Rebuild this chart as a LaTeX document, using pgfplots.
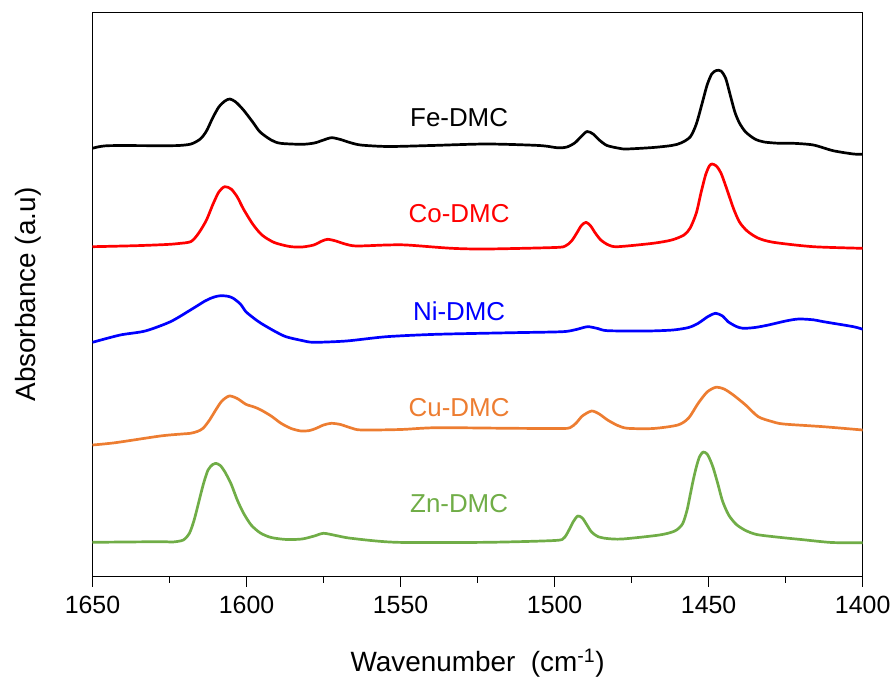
\documentclass[border=0pt]{standalone}
\usepackage{fontspec}
\setmainfont{Liberation Sans}
\usepackage{pgfplots}
\pgfplotsset{compat=1.18}
\definecolor{cuorange}{RGB}{237,125,49}
\definecolor{zngreen}{RGB}{112,173,71}
\begin{document}
\begin{tikzpicture}
\useasboundingbox (-92.5bp,-109.3bp) rectangle (800.5bp,576.7bp);
\begin{axis}[
  at={(0,0)}, anchor=south west,
  scale only axis, width=770.2bp, height=564.2bp,
  x dir=reverse, y dir=reverse,
  xmin=1400, xmax=1650, ymin=12.5, ymax=576.7,
  xtick={1400,1450,...,1650},
  minor xtick={1425,1475,...,1625},
  ytick=\empty,
  xtick pos=bottom, tick align=outside,
  major tick length=10bp, minor tick length=6bp,
  axis line style={line width=1bp},
  every tick/.style={black, line width=1bp},
  /pgf/number format/assume math mode=true,
  /pgf/number format/1000 sep={},
  xticklabel style={font=\fontsize{25}{30}\selectfont, yshift=-6bp},
  xlabel={Wavenumber\ \ (cm\textsuperscript{-1})},
  ylabel={Absorbance (a.u)},
  xlabel style={font=\fontsize{28}{33}\selectfont, at={(axis description cs:0.5,-0.1535)}, anchor=center},
  ylabel style={font=\fontsize{28}{33}\selectfont, at={(axis description cs:-0.0837,0.5)}, anchor=center},
  every axis plot/.append style={line width=2.7bp, smooth, tension=0.45, no markers, line join=round},
]
% Fe-DMC
\addplot[black] coordinates {
(1650,148.3)(1645,145.7)(1628,145.7)(1622,145.5)(1618,144)(1615,139)(1613,131)(1611,118)(1609,107)(1607,101)(1605.4,99)(1603.5,102)(1601,110)(1598,122)(1595.6,132)(1592,140)(1589,143.3)(1582,144.3)(1578,143)(1575,140)(1572.4,137.7)(1569.5,139.5)(1567,142)(1563,145)(1554,146.5)(1540,145.5)(1522,144)(1505,145.5)(1499,147.8)(1496,147)(1493.5,143)(1491.5,137)(1489.5,131.5)(1487.5,134)(1485.5,140)(1483,145.5)(1479,148.3)(1476.6,149)(1468,147.5)(1462,145.5)(1459,143)(1456,137)(1454,124)(1452,102)(1450.5,85)(1449,74)(1447.5,70.5)(1446,71)(1444.5,78)(1443,95)(1441.5,112)(1440,123)(1438,132)(1435,139)(1432,142)(1427,143.3)(1422.5,143.3)(1416,145)(1409.6,150.7)(1403,154)(1400,154.3)
};
% Co-DMC
\addplot[red] coordinates {
(1650,246.7)(1636.1,245.7)(1626,244.5)(1622,243.5)(1618,241.5)(1615.5,233)(1613,220)(1611,205)(1609,192)(1607.1,186.7)(1605,189)(1603,197)(1601,209)(1598,224)(1595,235)(1591,242.5)(1586,246.5)(1582,247)(1578.2,245)(1575.5,241)(1573.6,239.3)(1571,241)(1568,244)(1564.4,246)(1554.6,245)(1548,245)(1533.4,248.3)(1522,249)(1500,247.5)(1496.5,246)(1494.5,241)(1492.8,233)(1491.3,225.5)(1489.8,222.3)(1488.3,226)(1486.8,233)(1485,240)(1482.5,245)(1479.5,246.7)(1468.1,243.3)(1462,240)(1458,235)(1456,228)(1454,213)(1452.5,193)(1451,175)(1449.8,166)(1448.9,164)(1447.5,166)(1446,173)(1444,190)(1442,208)(1440,222)(1437.5,231)(1434,238)(1429,242.3)(1416,246.7)(1400,248.3)
};
% Ni-DMC
\addplot[blue] coordinates {
(1650,342.3)(1641,335)(1632.9,331)(1624.7,321.7)(1618.2,310)(1613.3,300.7)(1610.5,297)(1608.4,295.7)(1606,296.3)(1604.3,298.3)(1602,304)(1600.2,311.7)(1597.5,318.5)(1595.3,323.3)(1591,331)(1587.2,336.7)(1582,340.5)(1578.2,342.3)(1567.6,341)(1554.6,336.7)(1538.3,334.3)(1513.8,332.7)(1497.5,331.7)(1493,329.5)(1489.3,326.7)(1486,328.5)(1482.8,330.7)(1470,331)(1461.6,330)(1456.5,327.5)(1453.4,323.3)(1450.2,316.5)(1447.7,313.3)(1445.5,316)(1443.7,321.7)(1441,326.5)(1438.8,328.3)(1435,327.5)(1430.6,325)(1425,321)(1420.8,319)(1416,319.8)(1412.7,321.7)(1403,326.7)(1400,329.3)
};
% Cu-DMC
\addplot[cuorange] coordinates {
(1650,445)(1642.6,442.7)(1628,436)(1621,434)(1618.2,433.3)(1616,431.5)(1614.1,428.3)(1612,420)(1610,410)(1608,401)(1605.6,396)(1603,398.5)(1600.2,404.3)(1597.5,407)(1595.3,410)(1592,416)(1588.8,423.3)(1585.5,428.5)(1582.3,431)(1579.5,430.5)(1577.4,428.3)(1575,425)(1572.5,423.3)(1569.5,424.5)(1566,428)(1562.7,430)(1550,429.5)(1538.3,427.7)(1513.8,428.3)(1498,428.5)(1495,427.7)(1493,423)(1491,416)(1488,411)(1485.5,414)(1482.8,420)(1479.5,425.5)(1476.3,428.3)(1468,428.5)(1460,425)(1456.5,418)(1453.4,403.3)(1450.5,392)(1447.7,387.3)(1445,389)(1442,395)(1438,405)(1433.9,416.7)(1429.5,421.5)(1425.7,424)(1412.7,426.7)(1400,430)
};
% Zn-DMC
\addplot[zngreen] coordinates {
(1650,542.3)(1628,541.7)(1624,542)(1620.5,540)(1618.5,533)(1617,520)(1615.5,502)(1614,484)(1612.5,470)(1611,464.5)(1610,463.3)(1608.5,465.5)(1607,472)(1605,484)(1603,500)(1601,513)(1598.5,525)(1595.5,533)(1592,537.5)(1587,539.5)(1582,539)(1578,536)(1575,533.3)(1571,535.5)(1566,538.3)(1551.3,542.3)(1522,542.3)(1500,540.5)(1497,538)(1495.5,531)(1494,522)(1492.5,516)(1491,518)(1489.5,525)(1488,532)(1486,536.5)(1483,538.5)(1478,539)(1466,535)(1461,531)(1458.5,524)(1457,510)(1456,495)(1455,480)(1454,467)(1453,457)(1451.8,452)(1450.5,454)(1449.5,460)(1448.5,468)(1447,484)(1445.5,501)(1443.5,515)(1441,524.5)(1438,530.5)(1434.4,534.5)(1428,537)(1420,539.5)(1410,542.5)(1400,542.7)
};
\node[font=\fontsize{26}{31}\selectfont, text=black] at (axis cs:1531,118) {Fe-DMC};
\node[font=\fontsize{26}{31}\selectfont, text=red] at (axis cs:1531,214) {Co-DMC};
\node[font=\fontsize{26}{31}\selectfont, text=blue] at (axis cs:1531,311) {Ni-DMC};
\node[font=\fontsize{26}{31}\selectfont, text=cuorange] at (axis cs:1531,408) {Cu-DMC};
\node[font=\fontsize{26}{31}\selectfont, text=zngreen] at (axis cs:1531,504) {Zn-DMC};
\end{axis}
\end{tikzpicture}
\end{document}
